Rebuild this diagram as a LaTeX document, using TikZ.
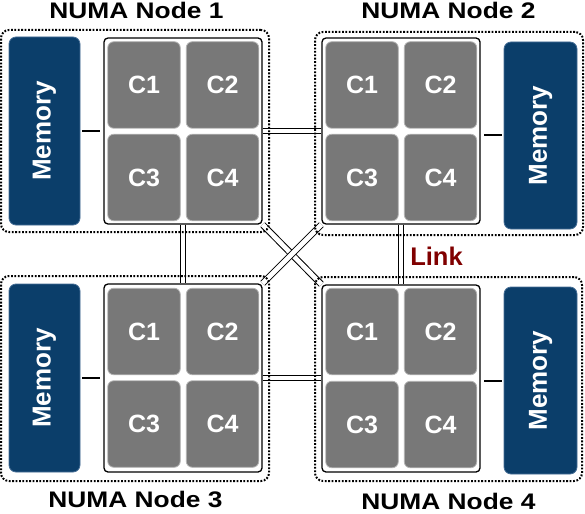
\documentclass[tikz,border=0pt]{standalone}
\usepackage{fontspec}
\setmainfont{Liberation Sans}
\usetikzlibrary{calc}
\definecolor{memblue}{RGB}{11,62,106}
\definecolor{memedge}{RGB}{70,110,150}
\definecolor{coregray}{RGB}{120,120,120}
\definecolor{coreedge}{RGB}{180,180,180}
\definecolor{linkred}{RGB}{128,0,0}
\pgfdeclarelayer{bg}
\pgfdeclarelayer{canvas}
\pgfsetlayers{canvas,bg,main}
\begin{document}
\begin{tikzpicture}[x=1pt,y=-1pt,
  numabox/.style={draw=black, line width=2pt, dash pattern=on 1.8pt off 1.6pt, rounded corners=8pt, inner sep=0pt},
  cpubox/.style={draw=black, fill=white, line width=1.3pt, rounded corners=4pt, inner sep=0pt, minimum width=158pt},
  core/.style={fill=coregray, draw=coreedge, line width=0.8pt, rounded corners=6pt, inner sep=0pt,
    minimum width=72.5pt, minimum height=86.5pt, text=white, font=\fontsize{25}{25}\selectfont\bfseries},
  mem/.style={fill=memblue, draw=memedge, line width=0.8pt, rounded corners=7pt, inner sep=0pt, rotate=90,
    text=white, font=\fontsize{26}{26}\selectfont\bfseries},
  linkline/.style={draw=black, line width=1pt, double=white, double distance=4.7pt},
  memlink/.style={draw=black, line width=2pt},
  title/.style={anchor=base, inner sep=0pt, font=\fontsize{22.5}{22.5}\selectfont\bfseries},
]
\begin{pgfonlayer}{canvas}
\fill[white] (0,0) rectangle (585,513);
\end{pgfonlayer}
\useasboundingbox (0,0) rectangle (585,513);

% NUMA boundaries
\node[numabox, minimum width=268pt, minimum height=202pt] (numa1) at (135,131) {};
\node[numabox, minimum width=268pt, minimum height=203pt] (numa2) at (449,133.5) {};
\node[numabox, minimum width=268pt, minimum height=205pt] (numa3) at (135,378.5) {};
\node[numabox, minimum width=267pt, minimum height=204pt] (numa4) at (448.5,379) {};

% CPU packages
\node[cpubox, minimum height=186pt] (cpu1) at (183,131) {};
\node[cpubox, minimum height=186pt] (cpu2) at (401,131) {};
\node[cpubox, minimum height=188pt] (cpu3) at (183,378) {};
\node[cpubox, minimum height=187pt] (cpu4) at (401,378.5) {};

% cores
\node[core] (n1c1) at (144,85) {C1};
\node[core] (n1c2) at (222.5,85) {C2};
\node[core] (n1c3) at (144,177.5) {C3};
\node[core] (n1c4) at (222.5,177.5) {C4};
\node[core] (n2c1) at (362,85) {C1};
\node[core] (n2c2) at (440.5,85) {C2};
\node[core] (n2c3) at (362,177.5) {C3};
\node[core] (n2c4) at (440.5,177.5) {C4};
\node[core] (n3c1) at (144,331.5) {C1};
\node[core] (n3c2) at (222.5,331.5) {C2};
\node[core] (n3c3) at (144,424) {C3};
\node[core] (n3c4) at (222.5,424) {C4};
\node[core] (n4c1) at (362,331.5) {C1};
\node[core] (n4c2) at (440.5,331.5) {C2};
\node[core] (n4c3) at (362,424.5) {C3};
\node[core] (n4c4) at (440.5,424.5) {C4};

% memories
\node[mem, minimum width=188pt, minimum height=71pt] (mem1) at (44.5,131) {Memory};
\node[mem, minimum width=187pt, minimum height=73pt] (mem2) at (540.5,135.5) {Memory};
\node[mem, minimum width=188pt, minimum height=71pt] (mem3) at (44.5,378) {Memory};
\node[mem, minimum width=187pt, minimum height=73pt] (mem4) at (540.5,380.5) {Memory};

% memory connectors
\draw[memlink] ($(mem1.south)+(2,0)$) -- ($(mem1.south -| cpu1.west)+(-3,0)$);
\draw[memlink] ($(mem2.north)+(-2,0)$) -- ($(mem2.north -| cpu2.east)+(3,0)$);
\draw[memlink] ($(mem3.south)+(2,0)$) -- ($(mem3.south -| cpu3.west)+(-3,0)$);
\draw[memlink] ($(mem4.north)+(-2,0)$) -- ($(mem4.north -| cpu4.east)+(3,0)$);

% interconnect links (below the packages)
\begin{pgfonlayer}{bg}
\draw[linkline] (cpu1.east) -- (cpu2.west);
\draw[linkline] (cpu3.east) -- (cpu3.east -| cpu4.west);
\draw[linkline] (cpu1.south) -- (cpu3.north);
\draw[linkline] (cpu2.south) -- (cpu4.north);
\draw[linkline] (cpu1.south east) -- (cpu4.north west);
\draw[linkline] (cpu2.south west) -- (cpu3.north east);
\end{pgfonlayer}

\node[anchor=base, inner sep=0pt, text=linkred, font=\fontsize{25.5}{25.5}\selectfont\bfseries] (linklabel) at (436.5,265) {Link};

% titles
\node[title] (t1) at (136.5,18.5) {\scalebox{1.17}[1]{NUMA Node 1}};
\node[title] (t2) at (448.5,18.5) {\scalebox{1.17}[1]{NUMA Node 2}};
\node[title] (t3) at (135.5,507.5) {\scalebox{1.17}[1]{NUMA Node 3}};
\node[title] (t4) at (448.5,509) {\scalebox{1.17}[1]{NUMA Node 4}};
\end{tikzpicture}
\end{document}
